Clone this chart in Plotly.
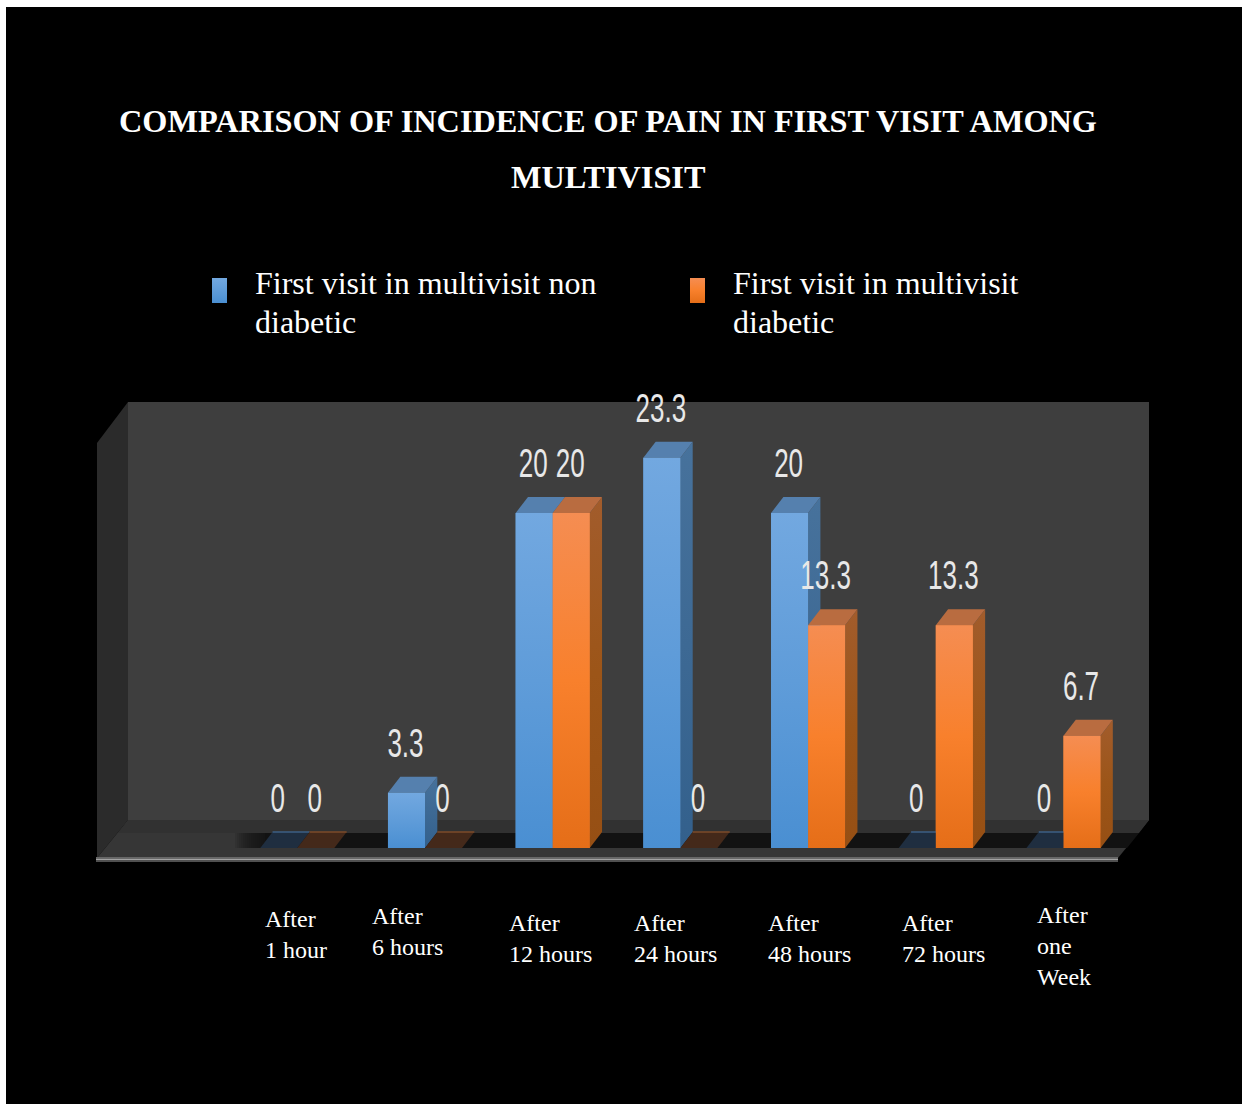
import plotly.graph_objects as go

# Incidence of pain (%) per follow-up time
categories = ["After<br>1 hour", "After<br>6 hours", "After<br>12 hours", "After<br>24 hours",
              "After<br>48 hours", "After<br>72 hours", "After<br>one<br>Week"]
non_diabetic = [0, 3.3, 20, 23.3, 20, 0, 0]
diabetic = [0, 0, 20, 0, 13.3, 13.3, 6.7]
series_names = ["First visit in multivisit non<br>diabetic", "First visit in multivisit<br>diabetic"]
title_lines = ["COMPARISON OF INCIDENCE OF PAIN IN FIRST VISIT AMONG", "MULTIVISIT"]

W, H = 1251, 1104
CAT_PX, UNIT_PX = 127.7, 16.75   # pixels per category / per percentage point
ORIGIN_X, ORIGIN_Y = 297.3, 848  # page position of category 0, value 0
BAR_W = 0.29
DEPTH_X, DEPTH_Y = 12.3 / CAT_PX, 16 / UNIT_PX
LABEL_GAP = 41 / UNIT_PX
LABEL_NUDGE = -1 / CAT_PX

BLUE = dict(base="#5b9bd9", front=("#4a8fd2", "#5f9cd9", "#72a8e0"), side=("#33608c", "#3d6994", "#47729c"),
            top="#5580ae", zero="#1f2e40", edge="#3d5f85")
ORANGE = dict(base="#f4812f", front=("#e56e18", "#f8802c", "#f58d52"), side=("#964f14", "#9c5518", "#a25c2c"),
              top="#b96c40", zero="#44291a", edge="#7d4b2a")


def paper(x, y):
    return x / W, 1 - y / H


def poly(points):
    parts = []
    for i, (x, y) in enumerate(points):
        u, v = paper(x, y)
        parts.append(f"{'M' if i == 0 else 'L'}{u:.5f},{v:.5f}")
    return " ".join(parts) + " Z"


def plane(points, color, opacity=1):
    return dict(type="path", xref="paper", yref="paper", path=poly(points), fillcolor=color,
                opacity=opacity, line=dict(width=0), layer="below")


def face(xs, ys, color=None, gradient=None):
    t = go.Scatter(x=xs, y=ys, mode="lines", fill="toself", line=dict(width=0),
                   hoverinfo="skip", showlegend=False)
    if gradient:
        t.fillgradient = dict(type="vertical",
                              colorscale=[[0, gradient[0]], [0.5, gradient[1]], [1, gradient[2]]])
    else:
        t.fillcolor = color
    return t


def px_to_data(x, y):
    return (x - ORIGIN_X) / CAT_PX, (ORIGIN_Y - y) / UNIT_PX


fig = go.Figure()

# Plain bars carry the values; the shaded faces are layered above them
fig.add_bar(x=list(range(len(categories))), y=non_diabetic, name=series_names[0],
            marker_color=BLUE["base"], marker_line_width=0)
fig.add_bar(x=list(range(len(categories))), y=diabetic, name=series_names[1],
            marker_color=ORANGE["base"], marker_line_width=0)

for i in range(len(categories)):
    for offset, values, style in ((-BAR_W, non_diabetic, BLUE), (0, diabetic, ORANGE)):
        v = values[i]
        x0, x1 = i + offset, i + offset + BAR_W
        tx0, tx1 = x0 + DEPTH_X, x1 + DEPTH_X
        if v == 0:
            fig.add_trace(face([x0, x1, tx1, tx0, x0], [0, 0, DEPTH_Y, DEPTH_Y, 0], color=style["zero"]))
            fig.add_trace(go.Scatter(x=[tx0, tx1], y=[DEPTH_Y, DEPTH_Y], mode="lines",
                                     line=dict(color=style["edge"], width=1.5),
                                     hoverinfo="skip", showlegend=False))
            continue
        fig.add_trace(face([x1, tx1, tx1, x1, x1], [0, DEPTH_Y, v + DEPTH_Y, v, 0], gradient=style["side"]))
        fig.add_trace(face([x0, x1, tx1, tx0, x0], [v, v, v + DEPTH_Y, v + DEPTH_Y, v], color=style["top"]))
        fig.add_trace(face([x0, x1, x1, x0, x0], [0, 0, v, v, 0], gradient=style["front"]))

# Value labels float a fixed distance above each bar
label_x, label_y, label_text = [], [], []
for i in range(len(categories)):
    for offset, values in ((-BAR_W / 2, non_diabetic), (BAR_W / 2, diabetic)):
        label_x.append(i + offset + LABEL_NUDGE)
        label_y.append(values[i] + LABEL_GAP)
        label_text.append(f"{values[i]:g}")
fig.add_trace(go.Scatter(x=label_x, y=label_y, text=label_text, mode="text", textposition="middle center",
                         textfont=dict(family="Liberation Sans Narrow, Liberation Sans", size=26, color="#e8e8e8"),
                         hoverinfo="skip", showlegend=False))

# Legend swatches
for left, style in ((212, BLUE), (690, ORANGE)):
    xa, ytop = px_to_data(left, 278)
    xb, ybot = px_to_data(left + 15, 303)
    fig.add_trace(face([xa, xb, xb, xa, xa], [ybot, ybot, ytop, ytop, ybot], gradient=style["front"]))

shapes = [
    dict(type="rect", xref="paper", yref="paper", x0=6 / W, x1=1242 / W, y0=0, y1=1 - 7 / H,
         fillcolor="#000000", line=dict(width=0), layer="below"),
    plane([(128, 402), (1149, 402), (1149, 820), (128, 820)], "#3e3e3e"),
    plane([(97, 443), (128, 402), (128, 820), (97, 858)], "#2b2b2b"),
    plane([(128, 820), (1149, 820), (1118, 858), (97, 858)], "#363636"),
    plane([(128, 820), (1149, 820), (1139, 833), (118, 833)], "#313131"),
    plane([(265, 833), (1139, 833), (1127, 848), (265, 848)], "#121212"),
    plane([(96, 857), (1118, 857), (1118, 858.5), (96, 858.5)], "#666666"),
    plane([(96, 858.5), (1118, 858.5), (1118, 860.5), (96, 860.5)], "#a2a2a2"),
    plane([(96, 860.5), (1118, 860.5), (1118, 862), (96, 862)], "#505050"),
]
# Soft left end of the shadow under the bars
for k in range(15):
    shapes.append(plane([(235 + 2 * k, 833), (265, 833), (265, 848), (235 + 2 * k, 848)], "#121212", 0.14))


def text_at(x, y, text, size, bold=False, anchor="left"):
    u, v = paper(x, y)
    return dict(x=u, y=v, xref="paper", yref="paper", text=f"<b>{text}</b>" if bold else text,
                showarrow=False, xanchor=anchor, yanchor="middle", align=anchor,
                font=dict(family="Liberation Serif", size=size, color="#ffffff"))


annotations = [
    text_at(608, 121, title_lines[0], 32.3, bold=True, anchor="center"),
    text_at(608, 177, title_lines[1], 32.3, bold=True, anchor="center"),
]
for name, left in zip(series_names, (253, 731)):
    for line, y in zip(name.split("<br>"), (282.5, 321.5)):
        annotations.append(text_at(left, y, line, 32))

category_anchor = [(262.5, 934), (370, 931), (507, 939), (631.5, 939), (765.5, 939), (899.5, 939), (1034.5, 946)]
for cat, (x, y) in zip(categories, category_anchor):
    annotations.append(text_at(x, y, cat, 24))

fig.update_layout(
    width=W, height=H, margin=dict(l=0, r=0, t=0, b=0), autosize=False,
    paper_bgcolor="#ffffff", plot_bgcolor="rgba(0,0,0,0)", showlegend=False,
    barmode="group", bargap=0.42, bargroupgap=0,
    xaxis=dict(visible=False, range=[-ORIGIN_X / CAT_PX, (W - ORIGIN_X) / CAT_PX], fixedrange=True),
    yaxis=dict(visible=False, range=[(ORIGIN_Y - H) / UNIT_PX, ORIGIN_Y / UNIT_PX], fixedrange=True),
    shapes=shapes, annotations=annotations,
)

# The value labels are set tall and narrow
stretch = """
var gd = document.getElementById('{plot_id}');
gd.querySelectorAll('.textpoint').forEach(function (g) {
  var t = g.querySelector('text');
  var b = t.getBBox();
  var cy = b.y + b.height / 2, k = 1.56;
  g.setAttribute('transform', 'translate(0,' + (cy * (1 - k)) + ') scale(1,' + k + ')');
});
"""
fig.write_html("out.html", post_script=stretch, config=dict(displayModeBar=False))
